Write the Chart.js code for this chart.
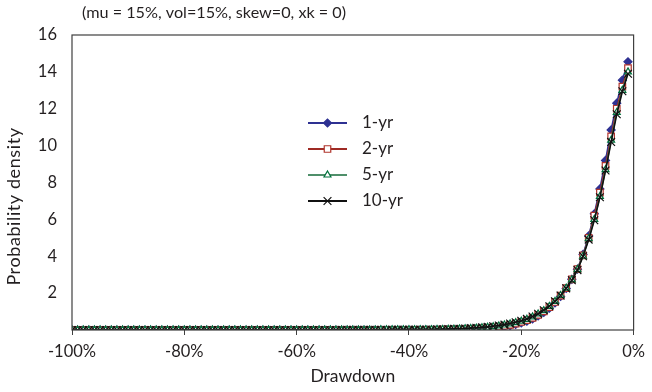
<!DOCTYPE html>
<html>
<head>
<meta charset="utf-8">
<script src="https://cdn.jsdelivr.net/npm/chart.js@4.4.0/dist/chart.umd.min.js"></script>
<style>
html,body{margin:0;padding:0;background:#fff;}
#wrap{width:652px;height:392px;position:relative;}
</style>
</head>
<body>
<div id="wrap"><canvas id="c" width="652" height="392"></canvas></div>
<script>
// Drawdown (fraction), from -100% to -1%
const drawdown = [-1.00,-0.99,-0.98,-0.97,-0.96,-0.95,-0.94,-0.93,-0.92,-0.91,
-0.90,-0.89,-0.88,-0.87,-0.86,-0.85,-0.84,-0.83,-0.82,-0.81,
-0.80,-0.79,-0.78,-0.77,-0.76,-0.75,-0.74,-0.73,-0.72,-0.71,
-0.70,-0.69,-0.68,-0.67,-0.66,-0.65,-0.64,-0.63,-0.62,-0.61,
-0.60,-0.59,-0.58,-0.57,-0.56,-0.55,-0.54,-0.53,-0.52,-0.51,
-0.50,-0.49,-0.48,-0.47,-0.46,-0.45,-0.44,-0.43,-0.42,-0.41,
-0.40,-0.39,-0.38,-0.37,-0.36,-0.35,-0.34,-0.33,-0.32,-0.31,
-0.30,-0.29,-0.28,-0.27,-0.26,-0.25,-0.24,-0.23,-0.22,-0.21,
-0.20,-0.19,-0.18,-0.17,-0.16,-0.15,-0.14,-0.13,-0.12,-0.11,
-0.10,-0.09,-0.08,-0.07,-0.06,-0.05,-0.04,-0.03,-0.02,-0.01];

const yr1 = [0,0,0,0,0,0,0,0,0,0,
0,0,0,0,0,0,0,0,0,0,
0,0,0,0,0,0,0,0,0,0,
0,0,0,0,0,0,0,0,0,0,
0,0,0,0,0,0,0,0,0,0,
0,0,0,0,0,0,0,0,0,0,
0,0,0,0.01,0.01,0.01,0.01,0.01,0.02,0.02,
0.03,0.04,0.05,0.06,0.08,0.11,0.14,0.18,0.23,0.30,
0.38,0.48,0.60,0.76,0.95,1.18,1.47,1.82,2.25,2.75,
3.30,4.10,5.10,6.30,7.65,9.20,10.85,12.30,13.55,14.55];

const yr2 = [0,0,0,0,0,0,0,0,0,0,
0,0,0,0,0,0,0,0,0,0,
0,0,0,0,0,0,0,0,0,0,
0,0,0,0,0,0,0,0,0,0,
0,0,0,0,0,0,0,0,0,0,
0,0,0,0,0,0,0,0,0,0,
0,0.01,0.01,0.01,0.01,0.01,0.02,0.02,0.03,0.04,
0.05,0.06,0.07,0.09,0.12,0.15,0.18,0.23,0.28,0.35,
0.44,0.54,0.66,0.82,1.01,1.24,1.52,1.86,2.27,2.75,
3.30,4.05,5.00,6.20,7.45,8.90,10.50,12.00,13.20,14.20];

const yr5 = [0,0,0,0,0,0,0,0,0,0,
0,0,0,0,0,0,0,0,0,0,
0,0,0,0,0,0,0,0,0,0,
0,0,0,0,0,0,0,0,0,0,
0,0,0,0,0,0,0,0,0,0,
0,0,0,0,0,0.01,0.01,0.01,0.01,0.01,
0.01,0.01,0.02,0.02,0.02,0.03,0.03,0.04,0.05,0.06,
0.07,0.08,0.10,0.12,0.15,0.18,0.22,0.27,0.33,0.40,
0.48,0.58,0.71,0.87,1.05,1.28,1.55,1.87,2.27,2.72,
3.28,4.00,4.95,6.00,7.25,8.70,10.30,11.80,13.00,14.00];

const yr10 = [0,0,0,0,0,0,0,0,0,0,
0,0,0,0,0,0,0,0,0,0,
0,0,0,0,0,0,0,0,0,0,
0,0,0,0,0,0,0,0,0,0,
0,0,0,0,0,0,0,0,0.01,0.01,
0.01,0.01,0.01,0.01,0.01,0.01,0.01,0.02,0.02,0.02,
0.02,0.02,0.03,0.03,0.03,0.04,0.04,0.05,0.06,0.07,
0.08,0.10,0.12,0.14,0.17,0.20,0.24,0.29,0.35,0.42,
0.50,0.60,0.73,0.88,1.07,1.29,1.56,1.87,2.26,2.70,
3.25,4.00,4.90,5.95,7.20,8.65,10.20,11.70,12.95,13.90];

const seriesNames = ['1-yr','2-yr','5-yr','10-yr'];
const titleText = '(mu = 15%, vol=15%, skew=0, xk = 0)';
const yTitleText = 'Probability density';
const xTicks = [-1.0,-0.8,-0.6,-0.4,-0.2,0];
const yTicks = [2,4,6,8,10,12,14,16];

const FONT = 'Lato, "Open Sans", sans-serif';
const TXT = '#231f20';

function pts(vals){ return drawdown.map((x,i)=>({x:x,y:vals[i]})); }

const styles = [
  {line:'#2e3192', pBorder:'#2e3192', pBg:'#2e3192', style:'rectRot', r:4, order:4},
  {line:'#9e2a24', pBorder:'#b0342c', pBg:'#ffffff', style:'rect', r:4.6, order:3},
  {line:'#4f8f6a', pBorder:'#00703c', pBg:'#ffffff', style:'triangle', r:4, order:2},
  {line:'#111111', pBorder:'#111111', pBg:'#111111', style:'crossRot', r:5.5, order:1}
];
const allVals = [yr1,yr2,yr5,yr10];

const datasets = allVals.map((v,i)=>({
  label: seriesNames[i],
  data: pts(v),
  borderColor: styles[i].line,
  borderWidth: 1.6,
  pointStyle: styles[i].style,
  pointRadius: styles[i].r,
  pointBorderColor: styles[i].pBorder,
  pointBackgroundColor: styles[i].pBg,
  pointBorderWidth: 1.2,
  order: styles[i].order,
  tension: 0,
  fill: false
}));

const framePlugin = {
  id:'frame',
  afterDraw(chart){
    const {ctx, chartArea:a} = chart;
    ctx.save();
    ctx.strokeStyle = '#404040';
    ctx.lineWidth = 1.2;
    ctx.strokeRect(a.left, a.top, a.right-a.left, a.bottom-a.top);
    // title
    ctx.fillStyle = TXT;
    ctx.font = '16.2px ' + FONT;
    ctx.textAlign = 'left';
    ctx.textBaseline = 'middle';
    ctx.fillText(titleText, a.left + 10, 13);
    // y axis title
    ctx.save();
    ctx.translate(14, (a.top + a.bottom)/2 + 24);
    ctx.rotate(-Math.PI/2);
    ctx.textAlign = 'center';
    ctx.font = '18px ' + FONT;
    try { ctx.letterSpacing = '0.6px'; } catch(e) {}
    ctx.fillText(yTitleText, 0, 0);
    ctx.restore();
    // legend
    const lx0 = a.left + 236, lx1 = a.left + 275, tx = a.left + 290;
    const rows = [123, 149, 175, 201];
    ctx.font = '17px ' + FONT;
    ctx.textAlign = 'left';
    styles.forEach((s,i)=>{
      const y = rows[i];
      ctx.strokeStyle = s.line;
      ctx.lineWidth = 2;
      ctx.beginPath(); ctx.moveTo(lx0,y); ctx.lineTo(lx1,y); ctx.stroke();
      ctx.strokeStyle = s.pBorder;
      ctx.fillStyle = s.pBg;
      ctx.lineWidth = 1.2;
      Chart.helpers.drawPoint(ctx, {pointStyle:s.style, radius:s.r, borderWidth:1.2}, (lx0+lx1)/2, y);
      ctx.fillStyle = TXT;
      ctx.fillText(seriesNames[i], tx, y);
    });
    ctx.restore();
  }
};

new Chart(document.getElementById('c'), {
  type:'line',
  data:{datasets},
  plugins:[framePlugin],
  options:{
    responsive:false,
    animation:false,
    devicePixelRatio:1,
    layout:{padding:{top:35,right:13,left:0,bottom:0}},
    plugins:{legend:{display:false}, tooltip:{enabled:false}, title:{display:false}},
    scales:{
      x:{
        type:'linear', min:-1, max:0,
        afterBuildTicks(s){ s.ticks = xTicks.map(v=>({value:v})); },
        afterFit(s){ s.height = 62; },
        grid:{display:true, drawOnChartArea:false, drawTicks:true, tickLength:5, color:'#404040'},
        border:{display:false},
        ticks:{color:TXT, font:{family:FONT, size:16.5}, padding:7, maxRotation:0, autoSkip:false,
          callback:(v)=>Math.round(v*100)+'%'},
        title:{display:true, text:'Drawdown', color:TXT, font:{family:FONT, size:17.5}, padding:{top:4,bottom:5}}
      },
      y:{
        min:0, max:16,
        afterBuildTicks(s){ s.ticks = yTicks.map(v=>({value:v})); },
        afterFit(s){ s.width = 72; },
        grid:{display:false, drawTicks:false},
        border:{display:false},
        ticks:{color:TXT, font:{family:FONT, size:16.5}, padding:15},
        title:{display:false}
      }
    }
  }
});
</script>
</body>
</html>
